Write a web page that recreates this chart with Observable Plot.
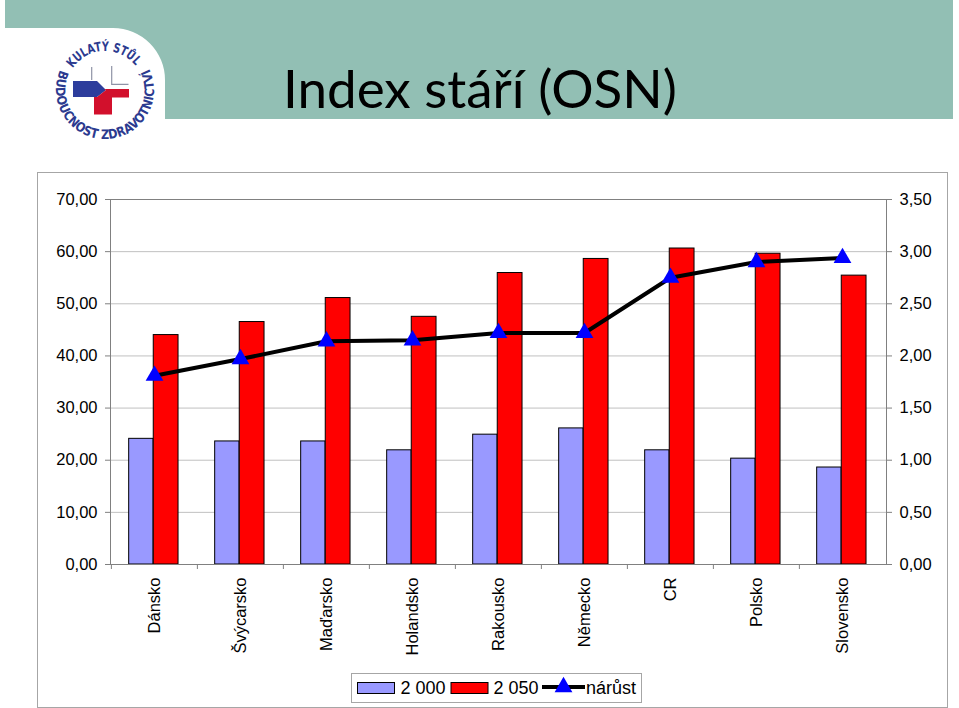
<!DOCTYPE html>
<html>
<head>
<meta charset="utf-8">
<script src="https://cdn.jsdelivr.net/npm/d3@7"></script>
<script src="https://cdn.jsdelivr.net/npm/@observablehq/plot@0.6"></script>
<style>
  html, body { margin: 0; padding: 0; background: #fff; }
  body { width: 959px; height: 708px; position: relative; overflow: hidden; }
  #header { position: absolute; left: 0; top: 0; }
  #frame { position: absolute; left: 37px; top: 172px; width: 909px; height: 534px; border: 1px solid #a6a6a6; box-sizing: content-box; }
  #chart { position: absolute; left: 37px; top: 172px; }
  #legend { position: absolute; left: 351px; top: 673px; }
</style>
</head>
<body>
<svg id="header" width="959" height="150" xmlns="http://www.w3.org/2000/svg">
  <path d="M5,0 H953 V119 H165 V80 A52,52 0 0 0 113,28 H5 Z" fill="#92BFB4"/>
  <text x="480" y="108" text-anchor="middle" font-family="Lato, 'Open Sans', sans-serif" font-size="53" fill="#000">Index stáří (OSN)</text>
  <g id="logo"></g>
</svg>
<div id="frame"></div>
<div id="chart"></div>
<svg id="legend" width="292" height="31" xmlns="http://www.w3.org/2000/svg"></svg>
<script>
// ---- data ----
const categories = ["Dánsko", "Švýcarsko", "Maďarsko", "Holandsko", "Rakousko", "Německo", "CR", "Polsko", "Slovensko"];
const values2000 = [24.1, 23.6, 23.6, 21.9, 24.9, 26.1, 21.9, 20.3, 18.6];
const values2050 = [44.0, 46.5, 51.1, 47.5, 55.9, 58.6, 60.6, 59.6, 55.4];
const narust = [1.81, 1.97, 2.14, 2.15, 2.22, 2.22, 2.75, 2.90, 2.94];
const leftTicks = [0, 10, 20, 30, 40, 50, 60, 70];
const rightTicks = [0, 0.5, 1, 1.5, 2, 2.5, 3, 3.5];
const seriesLabels = ["2 000", "2 050", "nárůst"];
const logoTop = "KULATÝ STŮL";
const logoBottom = "BUDOUCNOST ZDRAVOTNICTVÍ";

const rows = categories.map((c, i) => ({cat: c, v2000: values2000[i], v2050: values2050[i], n: narust[i]}));
const ratio = leftTicks[leftTicks.length - 1] / rightTicks[rightTicks.length - 1];
const fmt = d => d.toFixed(2).replace(".", ",");

// ---- chart ----
const W = 910, H = 490;
const mL = 73, mR = 61, mT = 27, mB = H - 392;
const bw = (W - mL - mR) / categories.length;
const font = "'Liberation Sans', Arial, sans-serif";

const chart = Plot.plot({
  width: W, height: H,
  marginLeft: mL, marginRight: mR, marginTop: mT, marginBottom: mB,
  style: {fontFamily: font, fontSize: "16.5px", color: "#000", background: "transparent", overflow: "visible"},
  x: {type: "band", domain: categories, padding: 0, axis: null, label: null},
  y: {domain: [0, 70], axis: null, label: null},
  marks: [
    Plot.ruleY(leftTicks.slice(1, -1), {stroke: "#c0c0c0", strokeWidth: 1}),
    Plot.barY(rows, {x: "cat", y: "v2000", fill: "#9999FF", stroke: "#000", strokeWidth: 1,
      insetLeft: bw * 0.205, insetRight: bw - bw * 0.49}),
    Plot.barY(rows, {x: "cat", y: "v2050", fill: "#FF0000", stroke: "#000", strokeWidth: 1,
      insetLeft: bw * 0.49, insetRight: bw - bw * 0.78}),
    Plot.frame({stroke: "#808080"}),
    Plot.axisY(leftTicks, {anchor: "left", tickSize: 5, tickPadding: 8, tickFormat: fmt, stroke: "#808080", fill: "#000", fontSize: 16.5, label: null}),
    Plot.axisY(rightTicks.map(t => t * ratio), {anchor: "right", tickSize: 5, tickPadding: 8, tickFormat: d => fmt(d / ratio), stroke: "#808080", fill: "#000", fontSize: 16.5, label: null}),
    Plot.axisX({tickSize: 5, fill: "none", stroke: "#808080", dx: -bw / 2, label: null}),
    Plot.line(rows, {x: "cat", y: d => d.n * ratio, stroke: "#000", strokeWidth: 4}),
    Plot.dot(rows, {x: "cat", y: d => d.n * ratio, symbol: "triangle", r: 6.6, fill: "#0000FF", stroke: "none"}),
    Plot.text(rows, {x: "cat", text: "cat", frameAnchor: "bottom", dy: 13, rotate: -90, textAnchor: "end", lineAnchor: "middle", fontSize: 16.5, fill: "#000"})
  ]
});
document.getElementById("chart").appendChild(chart);

// ---- legend ----
const lg = d3.select("#legend");
lg.append("rect").attr("x", 0.5).attr("y", 0.5).attr("width", 290).attr("height", 29).attr("fill", "#fff").attr("stroke", "#a6a6a6");
lg.append("rect").attr("x", 6.5).attr("y", 9.5).attr("width", 37).attr("height", 11).attr("fill", "#9999FF").attr("stroke", "#000");
lg.append("text").attr("x", 49.5).attr("y", 20.5).text(seriesLabels[0]);
lg.append("rect").attr("x", 100).attr("y", 9.5).attr("width", 37).attr("height", 11).attr("fill", "#FF0000").attr("stroke", "#000");
lg.append("text").attr("x", 142.5).attr("y", 20.5).text(seriesLabels[1]);
lg.append("line").attr("x1", 191).attr("x2", 234).attr("y1", 14).attr("y2", 14).attr("stroke", "#000").attr("stroke-width", 4);
lg.append("path").attr("d", d3.symbol(d3.symbolTriangle, Math.PI * 6.6 * 6.6)()).attr("transform", "translate(212.5,14)").attr("fill", "#0000FF");
lg.append("text").attr("x", 235).attr("y", 20.5).text(seriesLabels[2]);
lg.selectAll("text").attr("font-family", font).attr("font-size", 18).attr("fill", "#000");

// ---- logo ----
const logo = d3.select("#logo");
const cx = 105, cy = 90;
const rad = a => a * Math.PI / 180;
const pt = (r, a) => [cx + r * Math.cos(rad(a)), cy + r * Math.sin(rad(a))];
const defs = d3.select("#header").append("defs");
const t1 = pt(39, 214), t2 = pt(39, 322);
defs.append("path").attr("id", "arcTop").attr("d", `M${t1[0]},${t1[1]} A39,39 0 0 1 ${t2[0]},${t2[1]}`);
const b1 = pt(49, 204), b2 = pt(49, -28);
defs.append("path").attr("id", "arcBottom").attr("d", `M${b1[0]},${b1[1]} A49,49 0 1 0 ${b2[0]},${b2[1]}`);
logo.append("polygon").attr("points", "73,81 97,81 106,90 97,97 73,97").attr("fill", "#2d3d9c");
logo.append("polygon").attr("points", "104,89 129,89 129,97.5 112,97.5 112,114.5 94,114.5 94,97 97,97 106,90").attr("fill", "#d2102c");
logo.append("path").attr("d", "M91.7,67 V80 M111.7,66 V84.3 H128.5").attr("stroke", "#8f93a6").attr("stroke-width", 1.2).attr("fill", "none");
const lt = logo.append("text").attr("font-family", "'DejaVu Sans Condensed', 'DejaVu Sans', sans-serif").attr("font-weight", "bold").attr("font-size", 13).attr("fill", "#2b3a8f");
lt.append("textPath").attr("href", "#arcTop").attr("textLength", 73).attr("lengthAdjust", "spacingAndGlyphs").text(logoTop);
const lb = logo.append("text").attr("font-family", "'DejaVu Sans Condensed', 'DejaVu Sans', sans-serif").attr("font-weight", "bold").attr("font-size", 13).attr("fill", "#2b3a8f");
lb.append("textPath").attr("href", "#arcBottom").attr("textLength", 196).attr("lengthAdjust", "spacingAndGlyphs").text(logoBottom);
</script>
</body>
</html>
